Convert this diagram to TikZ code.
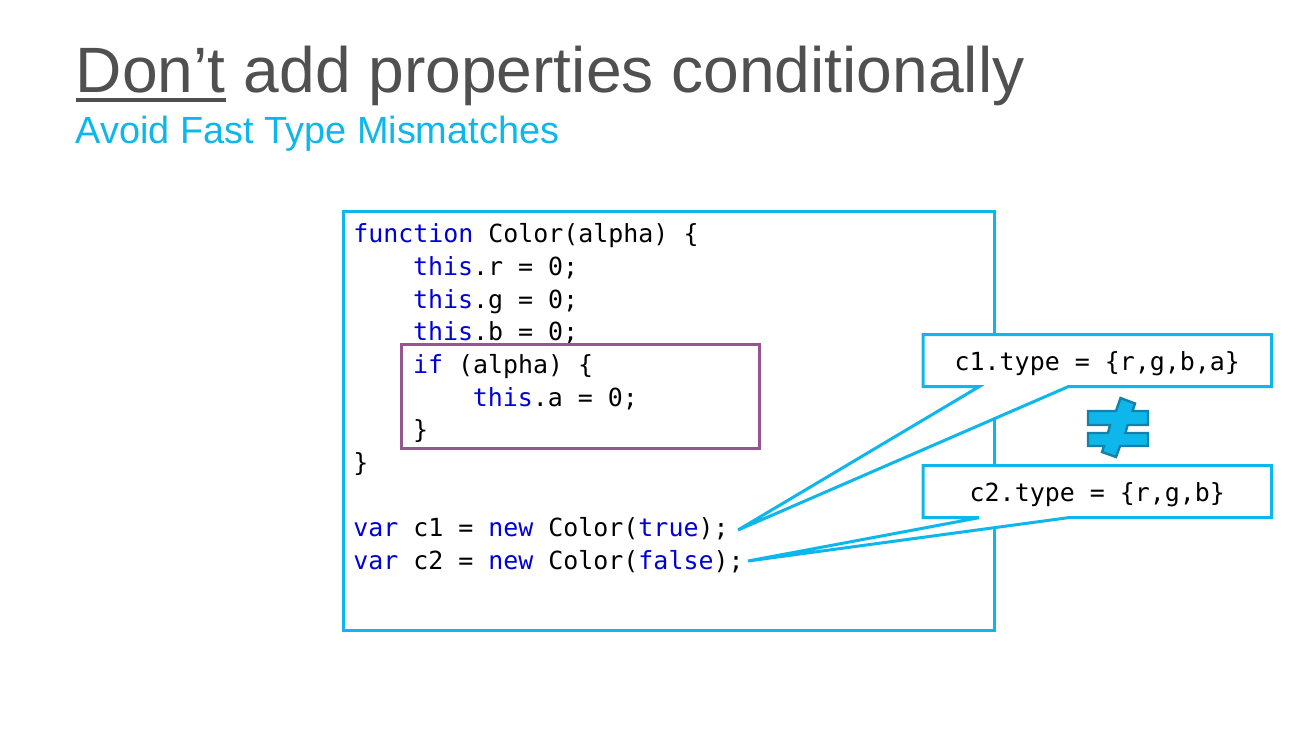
\documentclass[tikz,border=0pt]{standalone}
\usepackage{fontspec}
\setmainfont{Liberation Sans}
\setmonofont{DejaVu Sans Mono}
\usetikzlibrary{backgrounds}
\definecolor{slidecyan}{HTML}{0DB7EC}
\definecolor{slidegray}{HTML}{505050}
\definecolor{slidepurple}{HTML}{96558F}
\definecolor{neqedge}{HTML}{1580A8}
\newcommand{\kw}[1]{\textcolor{blue!85!black}{#1}}
\newcommand{\ind}{\hspace*{44.85pt}}
\begin{document}
\begin{tikzpicture}[x=0.75pt,y=-0.75pt,
                            code font/.style={font=\ttfamily\fontsize{18.7pt}{24.5pt}\selectfont},
                            title font/.style={font=\fontsize{48.1pt}{52pt}\selectfont,text=slidegray,anchor=base west,inner sep=0pt},
                            code frame/.style={draw=slidecyan,line width=2.25pt,minimum width=488.5pt,minimum height=313.5pt,inner sep=0pt},
                            type box/.style={code font,minimum width=261pt,minimum height=38.6pt,inner sep=0pt,text height=17pt,text depth=3pt},
                            callout/.style={draw=slidecyan,fill=white,line width=2.25pt,line join=miter}]

        \useasboundingbox (0,0) rectangle (1305,734);

        % Define title
        \node[title font] (dont) at (75.5,92.5) {Don’t};
        \node[title font] (rest) at ([xshift=13.4pt]dont.base east) {add properties conditionally};
        \node[font=\fontsize{28.4pt}{32pt}\selectfont,text=slidecyan,anchor=base west,inner sep=0pt] (sub) at (75.5,143.5) {Avoid Fast Type Mismatches};
        \draw[slidegray,line width=3pt] ([yshift=-6pt]dont.base west) -- ([yshift=-6pt]dont.base east);

        % Define code
        \node[code font,align=left,anchor=north west,inner sep=0pt] (code) at (353,223.5) {%
            \kw{function} Color(alpha) \{\\
            \ind\kw{this}.r = 0;\\
            \ind\kw{this}.g = 0;\\
            \ind\kw{this}.b = 0;\\
            \ind\kw{if} (alpha) \{\\
            \ind\ind\kw{this}.a = 0;\\
            \ind\}\\
            \}\\
            \mbox{}\\
            \kw{var} c1 = \kw{new} Color(\kw{true});\\
            \kw{var} c2 = \kw{new} Color(\kw{false});};
        \node[draw=slidepurple,line width=2.25pt,minimum width=268.5pt,minimum height=78pt,inner sep=0pt] (cond) at (580,396.5) {};

        % Define type boxes
        \node[type box] (c1) at (1097.3,360.7) {c1.type = \{r,g,b,a\}};
        \node[type box] (c2) at (1097.3,491.7) {c2.type = \{r,g,b\}};
        \coordinate (c1tip) at (738,530);
        \coordinate (c2tip) at (748,561);

        % Draw frame and callouts
        \begin{scope}[on background layer]
            \node[code frame] (frame) at (669,421) {};
            \foreach \n in {c1,c2}
                \draw[callout] (\n.south east) -- (\n.north east) -- (\n.north west) -- (\n.south west)
                    -- ++(56,0) -- (\n tip) -- ([xshift=-152.6pt]\n.south east) -- cycle;
        \end{scope}

        % Draw not equal sign
        \draw[fill=slidecyan,draw=neqedge,line width=1.8pt,line join=miter]
            (1120.5,398) -- (1135,403.5) -- (1132.5,411) -- (1148,411) -- (1148,425) -- (1127.6,425)
            -- (1125.4,433) -- (1148,433) -- (1148,446) -- (1120,446) -- (1116,457) -- (1102,452)
            -- (1104,446) -- (1088,446) -- (1088,433) -- (1108,433) -- (1110,425) -- (1088,425)
            -- (1088,411) -- (1116,411) -- cycle;

        \end{tikzpicture}
\end{document}
